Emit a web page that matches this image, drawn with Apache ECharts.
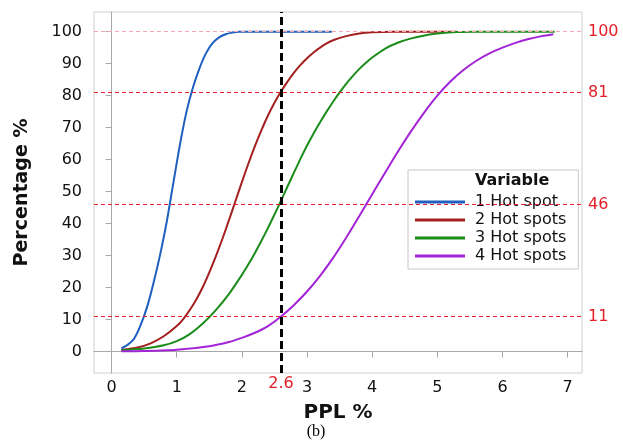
<!DOCTYPE html>
<html>
<head>
<meta charset="utf-8">
<script src="https://cdn.jsdelivr.net/npm/echarts@6/dist/echarts.min.js"></script>
<style>
html,body{margin:0;padding:0;background:#fff;}
#chart{width:623px;height:447px;}
</style>
</head>
<body>
<div id="chart"></div>
<script>
// ---- data ----
const seriesNames = ['1 Hot spot', '2 Hot spots', '3 Hot spots', '4 Hot spots'];

const pplHot1 = [0.15, 0.25, 0.35, 0.45, 0.55, 0.65, 0.75, 0.85, 0.95, 1.05, 1.15, 1.25, 1.35, 1.45, 1.55, 1.65, 1.75, 1.85, 1.95, 3.38];
const pctHot1 = [1.0, 2.2, 4.2, 8.5, 14.3, 22, 30.8, 41, 53, 64.8, 75, 82.6, 88.6, 93.3, 96.4, 98.2, 99.2, 99.7, 100, 100];

const pplHot2 = [0.15, 0.4, 0.6, 0.8, 1.0, 1.1, 1.2, 1.3, 1.4, 1.5, 1.6, 1.7, 1.8, 1.9, 2.0, 2.1, 2.2, 2.3, 2.4, 2.5, 2.6, 2.7, 2.8, 2.9, 3.0, 3.1, 3.2, 3.3, 3.4, 3.6, 3.8, 4.0, 4.3, 5.3];
const pctHot2 = [0.5, 1.3, 2.6, 4.8, 8.0, 10.2, 13, 16.3, 20.2, 24.8, 29.8, 35.2, 41, 47, 53, 58.8, 64.2, 69.2, 73.8, 77.8, 81.3, 84.4, 87.2, 89.6, 91.7, 93.5, 95, 96.3, 97.3, 98.6, 99.4, 99.8, 100, 100];

const pplHot3 = [0.15, 0.5, 0.8, 1.0, 1.2, 1.4, 1.6, 1.8, 2.0, 2.1, 2.2, 2.3, 2.4, 2.5, 2.6, 2.7, 2.8, 2.9, 3.0, 3.1, 3.2, 3.3, 3.4, 3.5, 3.6, 3.7, 3.8, 3.9, 4.0, 4.2, 4.4, 4.6, 4.8, 5.0, 5.3, 5.6, 6.8];
const pctHot3 = [0.4, 1.0, 2.0, 3.3, 5.5, 8.8, 13.0, 18.0, 24.0, 27.3, 30.85, 34.65, 38.65, 42.85, 47.15, 51.6, 56.0, 60.3, 64.4, 68.2, 71.7, 75.0, 78.1, 81.0, 83.7, 86.1, 88.3, 90.2, 91.9, 94.7, 96.6, 97.9, 98.8, 99.4, 99.9, 100, 100];

const pplHot4 = [0.15, 0.5, 1.0, 1.5, 1.8, 2.0, 2.2, 2.4, 2.6, 2.8, 3.0, 3.2, 3.4, 3.6, 3.8, 4.0, 4.2, 4.4, 4.6, 4.8, 5.0, 5.2, 5.4, 5.6, 5.8, 6.0, 6.2, 6.4, 6.6, 6.78];
const pctHot4 = [0.1, 0.2, 0.6, 1.7, 3.0, 4.3, 5.9, 8.0, 11.0, 14.6, 18.8, 23.7, 29.3, 35.6, 42.3, 49.2, 56.0, 62.7, 69.0, 74.8, 80, 84.4, 88.0, 90.9, 93.2, 95.0, 96.5, 97.7, 98.6, 99.2];

const refLevels = [100, 81, 46, 11];
const refPpl = 2.6;

const xTicks = [0, 1, 2, 3, 4, 5, 6, 7];
const yTicks = [0, 10, 20, 30, 40, 50, 60, 70, 80, 90, 100];
// ------------------------------------------------

const colors = ['#1e5fbf', '#a3201f', '#1a8c1a', '#a224d6'];
const FONT = 'DejaVu Sans';

function pairs(xs, ys) { return xs.map((x, i) => [x, ys[i]]); }
const allData = [pairs(pplHot1, pctHot1), pairs(pplHot2, pctHot2), pairs(pplHot3, pctHot3), pairs(pplHot4, pctHot4)];

const chart = echarts.init(document.getElementById('chart'), null, {renderer: 'canvas'});

const series = seriesNames.map((name, i) => ({
  name: name,
  type: 'line',
  data: allData[i],
  showSymbol: false,
  symbol: 'none',
  smooth: 0.25,
  lineStyle: {color: colors[i], width: 2},
  itemStyle: {color: colors[i]},
  z: 2 + i,
  animation: false
}));

// horizontal reference lines
series[0].markLine = {
  silent: true,
  symbol: ['none', 'none'],
  animation: false,
  lineStyle: {color: '#e8202a', width: 1, type: [4, 3], opacity: 1},
  label: {show: true, position: 'end', distance: 6, color: '#e3202a', fontFamily: FONT, fontSize: 16},
  emphasis: {disabled: true},
  data: refLevels.map((v, i) => ({
    yAxis: v,
    lineStyle: {color: i === 0 ? '#f4a6ad' : '#e8202a', width: 1, type: [4, 3], opacity: 1},
    label: {show: true, position: 'end', distance: 6, formatter: String(v),
            color: '#e3202a', fontFamily: FONT, fontSize: 16}
  }))
};
// vertical reference line
series[3].markLine = {
  silent: true,
  symbol: ['none', 'none'],
  animation: false,
  z: 10,
  lineStyle: {color: '#000', width: 3, type: [8, 4], opacity: 1},
  emphasis: {disabled: true},
  label: {show: true, position: 'start', distance: 3, formatter: String(refPpl),
          color: '#e3202a', fontFamily: FONT, fontSize: 16},
  data: [{xAxis: refPpl}]
};

const option = {
  backgroundColor: '#fff',
  animation: false,
  color: colors,
  title: [
    {text: 'Variable', left: 475, top: 173, padding: 0,
     textStyle: {fontFamily: FONT, fontSize: 16, fontWeight: 'bold', color: '#111'}},
    {text: '(b)', left: 316, top: 424, textAlign: 'center', padding: 0,
     textStyle: {fontFamily: 'Liberation Serif', fontSize: 16, fontWeight: 'normal', color: '#000'}}
  ],
  legend: {
    data: seriesNames,
    orient: 'vertical',
    left: 408, top: 170,
    padding: [24, 12, 5, 7],
    itemWidth: 50, itemHeight: 3, itemGap: 2,
    icon: 'rect',
    backgroundColor: '#fff',
    borderColor: '#c8c8c8', borderWidth: 1,
    textStyle: {fontFamily: FONT, fontSize: 16, lineHeight: 16, color: '#111', padding: [0, 0, 0, 5]}
  },
  grid: {
    left: 94, top: 12, width: 488, height: 361,
    show: true, borderColor: '#cfcfcf', borderWidth: 1, backgroundColor: 'transparent',
    containLabel: false
  },
  xAxis: {
    type: 'value', min: -0.27, max: 7.22,
    name: 'PPL %', nameLocation: 'middle', nameGap: 30,
    nameTextStyle: {fontFamily: FONT, fontSize: 20, fontWeight: 'bold', color: '#111'},
    axisLine: {show: true, lineStyle: {color: '#a8a8a8', width: 1}},
    axisTick: {show: true, length: 6, lineStyle: {color: '#a8a8a8'}, customValues: xTicks},
    axisLabel: {margin: 7, fontFamily: FONT, fontSize: 16, color: '#111', customValues: xTicks},
    splitLine: {show: false}
  },
  yAxis: {
    type: 'value', min: -6.6725, max: 106.14,
    name: 'Percentage %', nameLocation: 'middle', nameGap: 62,
    nameTextStyle: {fontFamily: FONT, fontSize: 19, fontWeight: 'bold', color: '#111'},
    axisLine: {show: true, lineStyle: {color: '#a8a8a8', width: 1}},
    axisTick: {show: true, length: 6, lineStyle: {color: '#a8a8a8'}, customValues: yTicks},
    axisLabel: {margin: 12, fontFamily: FONT, fontSize: 16, color: '#111', customValues: yTicks},
    splitLine: {show: false}
  },
  series: series
};

chart.setOption(option);
</script>
</body>
</html>
